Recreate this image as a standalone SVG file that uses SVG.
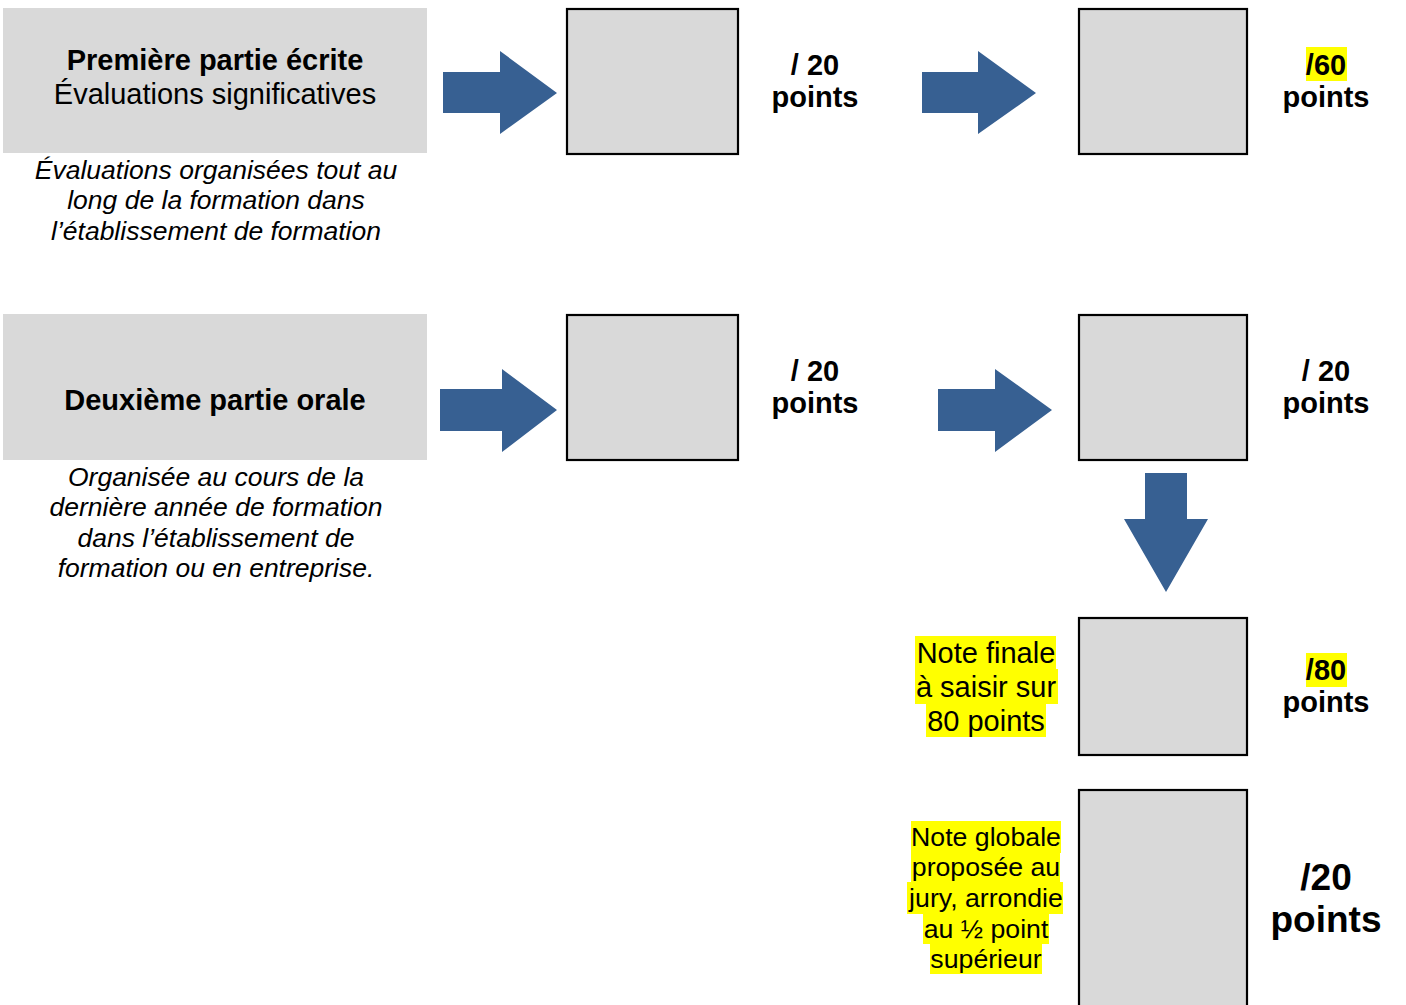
<svg xmlns="http://www.w3.org/2000/svg" width="1406" height="1005" viewBox="0 0 1406 1005">
<style>
text{font-family:"Liberation Sans",Arial,sans-serif;fill:#000;text-anchor:middle}
.b{font-weight:bold;font-size:29px}
.r{font-size:29px}
.i{font-style:italic;font-size:26.5px}
.n{font-size:26.7px}
.big{font-weight:bold;font-size:37px}
.panel{fill:#d9d9d9}
.box{fill:#d9d9d9;stroke:#000;stroke-width:2.2}
.arr{fill:#376092}
.hl{fill:#ffff00}
</style>
<rect width="1406" height="1005" fill="#fff"/>
<g id="part1">
<rect class="panel" x="3" y="8" width="424" height="145"/>
<text class="b" x="215" y="70">Première partie écrite</text>
<text class="r" x="215" y="104">Évaluations significatives</text>
<text class="i" x="216" y="179">Évaluations organisées tout au</text>
<text class="i" x="216" y="209">long de la formation dans</text>
<text class="i" x="216" y="240">l’établissement de formation</text>
</g>
<g id="part2">
<rect class="panel" x="3" y="314" width="424" height="146"/>
<text class="b" x="215" y="410">Deuxième partie orale</text>
<text class="i" x="216" y="486">Organisée au cours de la</text>
<text class="i" x="216" y="516">dernière année de formation</text>
<text class="i" x="216" y="547">dans l’établissement de</text>
<text class="i" x="216" y="577">formation ou en entreprise.</text>
</g>
<g id="box1">
<rect class="box" x="567" y="9" width="171" height="145"/>
<text class="b" x="815" y="75">/ 20</text>
<text class="b" x="815" y="107">points</text>
</g>
<g id="box2">
<rect class="box" x="1079" y="9" width="168" height="145"/>
<rect class="hl" x="1306" y="47" width="41" height="34"/>
<text class="b" x="1326" y="75">/60</text>
<text class="b" x="1326" y="107">points</text>
</g>
<g id="box3">
<rect class="box" x="567" y="315" width="171" height="145"/>
<text class="b" x="815" y="381">/ 20</text>
<text class="b" x="815" y="413">points</text>
</g>
<g id="box4">
<rect class="box" x="1079" y="315" width="168" height="145"/>
<text class="b" x="1326" y="381">/ 20</text>
<text class="b" x="1326" y="413">points</text>
</g>
<g id="box5">
<rect class="box" x="1079" y="618" width="168" height="137"/>
<rect class="hl" x="915" y="636" width="141" height="34"/>
<rect class="hl" x="915" y="669" width="143" height="35"/>
<rect class="hl" x="926" y="703" width="120" height="34"/>
<text class="r" x="986" y="663">Note finale</text>
<text class="r" x="986" y="697">à saisir sur</text>
<text class="r" x="986" y="731">80 points</text>
<rect class="hl" x="1306" y="653" width="41" height="34"/>
<text class="b" x="1326" y="680">/80</text>
<text class="b" x="1326" y="712">points</text>
</g>
<g id="box6">
<rect class="box" x="1079" y="790" width="168" height="225"/>
<rect class="hl" x="911" y="821" width="150" height="32"/>
<rect class="hl" x="911" y="852" width="149" height="31"/>
<rect class="hl" x="907" y="882" width="156" height="32"/>
<rect class="hl" x="923" y="913" width="126" height="31"/>
<rect class="hl" x="930" y="943" width="112" height="31"/>
<text class="n" x="986" y="846">Note globale</text>
<text class="n" x="986" y="876">proposée au</text>
<text class="n" x="986" y="907">jury, arrondie</text>
<text class="n" x="986" y="938">au ½ point</text>
<text class="n" x="986" y="968">supérieur</text>
<text class="big" x="1326" y="890">/20</text>
<text class="big" x="1326" y="932">points</text>
</g>
<g id="connectors">
<polygon class="arr" points="443,72 500,72 500,51 557,93 500,134 500,113 443,113"/>
<polygon class="arr" points="922,72 978,72 978,51 1036,93 978,134 978,113 922,113"/>
<polygon class="arr" points="440,389 502,389 502,369 557,410 502,452 502,431 440,431"/>
<polygon class="arr" points="938,389 995,389 995,369 1052,410 995,452 995,431 938,431"/>
<polygon class="arr" points="1145,473 1187,473 1187,519 1208,519 1166,592 1124,519 1145,519"/>
</g>
</svg>
